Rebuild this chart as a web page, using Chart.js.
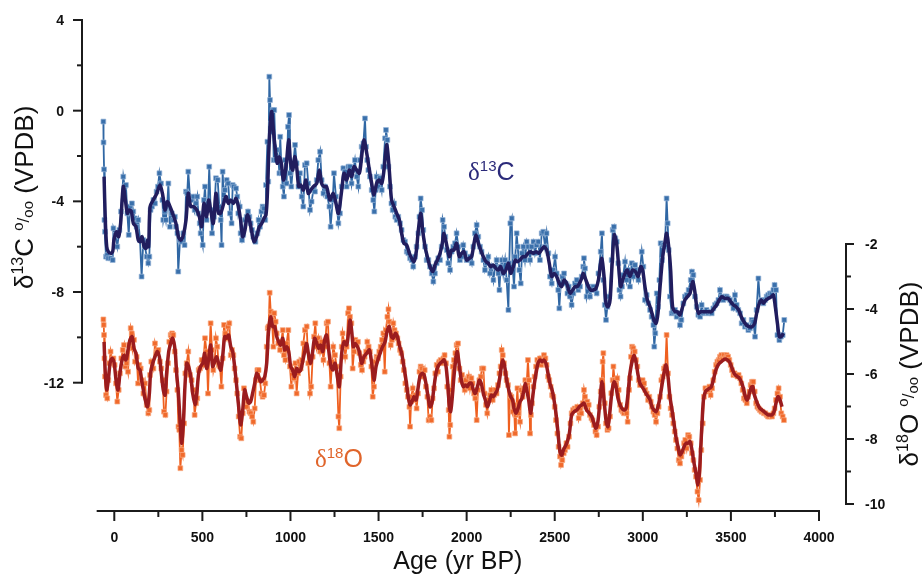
<!DOCTYPE html>
<html>
<head>
<meta charset="utf-8">
<script src="https://cdn.jsdelivr.net/npm/chart.js@4/dist/chart.umd.min.js"></script>
<style>
  html, body { margin: 0; padding: 0; background: #fff; }
  #wrap { width: 922px; height: 574px; }
</style>
</head>
<body>
<div id="wrap"><canvas id="isoChart" width="922" height="574"></canvas></div>
<script>
// Stalagmite isotope record - d13C (left axis) and d18O (right axis) vs age

// axis ticks
const xMajorTicks = [0, 500, 1000, 1500, 2000, 2500, 3000, 3500, 4000];
const xMinorTicks = [250, 750, 1250, 1750, 2250, 2750, 3250, 3750];
const xAxisSpan = [-100, 4000];
const c13MajorTicks = [4, 0, -4, -8, -12];
const c13MinorTicks = [2, -2, -6, -10];
const o18MajorTicks = [-2, -4, -6, -8, -10];
const o18MinorTicks = [-3, -5, -7, -9];

// d13C measurements [age yr BP, permil]
const c13Raw = [
  [-62,-0.48],[-61,-1.40],[-58,-2.59],[-56,-4.82],[-53,-5.34],[-47,-6.44],[-40,-6.37],[-34,-6.51],[-21,-6.51],[-9,-6.59],
  [-5,-5.19],[6,-5.48],[17,-6.00],[29,-5.26],[38,-4.45],[51,-2.91],[59,-3.35],[66,-3.28],[74,-4.53],[82,-5.48],
  [89,-4.23],[100,-4.09],[108,-4.45],[117,-4.75],[127,-5.12],[136,-4.82],[146,-5.71],[155,-7.32],[165,-5.71],[174,-6.00],
  [184,-6.44],[193,-6.73],[199,-6.44],[206,-4.38],[214,-4.23],[222,-3.94],[231,-4.09],[240,-3.57],[248,-3.35],[256,-2.76],
  [265,-3.21],[273,-3.94],[278,-4.82],[286,-4.45],[293,-4.82],[301,-4.09],[307,-3.21],[316,-5.12],[326,-4.53],[335,-4.82],
  [344,-4.68],[350,-5.12],[358,-5.41],[363,-7.10],[373,-5.71],[382,-5.78],[392,-5.41],[399,-5.93],[407,-3.57],[414,-3.65],
  [420,-2.69],[430,-3.87],[439,-3.94],[449,-3.79],[456,-4.38],[464,-4.09],[471,-3.79],[477,-4.53],[485,-4.97],[490,-5.41],
  [502,-5.93],[509,-3.94],[515,-3.35],[524,-4.82],[532,-4.09],[539,-2.47],[547,-4.38],[555,-5.41],[566,-4.68],[577,-2.98],
  [587,-3.06],[596,-4.23],[604,-4.82],[609,-5.93],[615,-2.69],[623,-3.94],[628,-3.50],[638,-3.06],[647,-3.21],[657,-4.53],
  [666,-4.97],[672,-3.28],[679,-3.35],[691,-3.43],[698,-3.79],[704,-4.53],[712,-4.23],[717,-5.41],[725,-5.71],[732,-5.48],
  [742,-4.82],[751,-4.68],[759,-4.45],[767,-4.68],[774,-4.97],[782,-5.26],[789,-5.56],[801,-5.78],[812,-5.41],[819,-4.82],
  [827,-5.12],[835,-4.45],[842,-4.23],[850,-4.31],[857,-4.82],[861,-3.28],[869,-1.37],[874,-3.13],[880,1.50],[884,0.47],
  [890,-0.56],[895,-0.93],[899,0.03],[905,-2.18],[908,0.03],[916,-2.18],[922,-1.73],[931,-2.10],[937,-2.76],[942,-1.15],
  [950,-2.76],[956,-3.35],[963,-3.79],[969,-2.18],[978,-3.21],[986,-0.71],[992,-0.19],[997,-2.76],[1005,-3.35],[1016,-2.32],
  [1026,-1.51],[1035,-2.32],[1045,-3.35],[1054,-2.76],[1064,-3.79],[1073,-4.23],[1082,-2.40],[1092,-2.32],[1101,-3.21],[1111,-4.38],
  [1120,-4.01],[1130,-3.50],[1139,-3.57],[1149,-3.06],[1158,-2.18],[1168,-1.81],[1177,-3.06],[1187,-3.65],[1196,-3.35],[1209,-3.79],
  [1221,-4.23],[1228,-5.12],[1240,-3.94],[1247,-2.76],[1258,-3.79],[1272,-4.97],[1281,-4.53],[1291,-3.35],[1300,-2.54],[1310,-2.69],
  [1319,-3.35],[1329,-2.47],[1338,-2.47],[1347,-3.21],[1357,-2.62],[1366,-2.18],[1376,-2.91],[1385,-3.35],[1395,-2.18],[1404,-1.59],
  [1414,-1.44],[1423,-0.34],[1429,-1.59],[1436,-2.18],[1442,-2.62],[1451,-2.91],[1461,-3.50],[1470,-3.94],[1476,-4.45],[1484,-3.50],
  [1489,-2.91],[1499,-3.35],[1508,-2.98],[1518,-3.50],[1527,-2.47],[1537,-1.22],[1542,-0.85],[1550,-1.29],[1556,-2.47],[1565,-3.35],
  [1573,-4.09],[1580,-4.38],[1588,-4.09],[1595,-4.68],[1603,-4.82],[1612,-4.68],[1622,-4.97],[1631,-5.26],[1641,-5.71],[1650,-5.78],
  [1660,-6.22],[1669,-6.29],[1679,-6.51],[1688,-6.59],[1697,-6.88],[1707,-6.44],[1716,-6.00],[1726,-5.41],[1732,-4.68],[1739,-3.87],
  [1747,-4.38],[1754,-5.26],[1764,-6.00],[1773,-6.59],[1783,-6.59],[1792,-6.88],[1802,-7.18],[1811,-7.54],[1820,-7.18],[1830,-6.73],
  [1839,-6.51],[1849,-6.59],[1858,-6.00],[1864,-4.82],[1872,-5.12],[1879,-5.56],[1887,-6.15],[1896,-6.73],[1906,-7.03],[1915,-6.22],
  [1924,-6.00],[1934,-5.85],[1943,-5.41],[1953,-6.00],[1962,-6.59],[1972,-6.44],[1981,-5.93],[1991,-6.29],[2000,-6.59],[2010,-6.59],
  [2019,-6.44],[2029,-6.73],[2038,-6.00],[2047,-5.41],[2057,-5.04],[2066,-5.56],[2076,-6.00],[2085,-6.22],[2095,-6.59],[2104,-7.03],
  [2114,-6.73],[2123,-6.44],[2133,-7.18],[2142,-6.88],[2152,-7.47],[2161,-6.88],[2170,-6.59],[2180,-7.18],[2186,-7.91],[2193,-6.88],
  [2201,-6.59],[2208,-7.18],[2218,-6.59],[2227,-7.47],[2237,-8.79],[2242,-6.73],[2248,-4.97],[2256,-4.75],[2261,-6.88],[2269,-7.76],
  [2276,-6.44],[2284,-5.41],[2290,-6.00],[2299,-7.03],[2307,-7.62],[2314,-6.29],[2322,-6.00],[2331,-6.59],[2341,-5.78],[2350,-6.00],
  [2360,-6.59],[2369,-6.00],[2379,-5.78],[2388,-6.29],[2397,-5.93],[2407,-5.78],[2416,-6.59],[2426,-5.41],[2435,-5.34],[2445,-6.00],
  [2454,-5.41],[2464,-6.29],[2473,-7.32],[2483,-7.62],[2492,-7.03],[2502,-6.44],[2511,-7.18],[2520,-7.91],[2526,-8.72],[2534,-7.62],
  [2543,-7.32],[2553,-7.18],[2562,-7.62],[2572,-8.06],[2580,-7.76],[2587,-8.20],[2596,-8.57],[2606,-8.06],[2615,-7.62],[2625,-7.47],
  [2634,-7.91],[2644,-7.76],[2653,-7.32],[2662,-6.88],[2666,-6.51],[2672,-6.96],[2681,-8.20],[2691,-7.76],[2700,-8.20],[2710,-7.91],
  [2719,-7.76],[2729,-7.91],[2738,-8.06],[2748,-7.18],[2761,-6.22],[2768,-5.41],[2776,-7.47],[2784,-8.57],[2791,-9.23],[2799,-8.65],
  [2810,-8.20],[2823,-6.59],[2829,-5.26],[2836,-5.12],[2844,-5.63],[2852,-5.78],[2861,-6.73],[2867,-7.91],[2874,-8.20],[2882,-7.76],
  [2889,-7.25],[2899,-6.66],[2908,-7.47],[2918,-7.03],[2927,-7.76],[2937,-6.73],[2946,-7.32],[2956,-6.81],[2965,-7.03],[2975,-7.47],
  [2984,-7.03],[2994,-6.22],[3003,-6.88],[3012,-8.35],[3022,-8.13],[3031,-8.50],[3041,-8.79],[3050,-9.09],[3060,-9.46],[3065,-10.41],
  [3071,-9.82],[3079,-8.06],[3086,-8.65],[3094,-7.47],[3101,-5.85],[3109,-6.59],[3117,-5.93],[3126,-6.00],[3135,-3.87],[3141,-4.97],
  [3147,-6.15],[3154,-8.20],[3164,-8.94],[3173,-8.87],[3183,-8.79],[3192,-9.09],[3202,-8.94],[3211,-9.46],[3219,-9.23],[3230,-8.50],
  [3239,-8.20],[3249,-8.13],[3260,-7.91],[3272,-7.47],[3279,-7.10],[3287,-7.25],[3296,-8.20],[3306,-8.65],[3315,-9.01],[3325,-9.09],
  [3334,-8.57],[3344,-8.94],[3353,-8.87],[3362,-8.79],[3372,-8.94],[3381,-8.87],[3391,-8.94],[3400,-8.72],[3410,-8.57],[3419,-8.50],
  [3429,-8.35],[3438,-7.91],[3448,-8.20],[3457,-8.35],[3467,-8.20],[3476,-8.20],[3485,-8.28],[3495,-8.35],[3504,-8.50],[3514,-8.72],
  [3523,-8.13],[3533,-8.57],[3542,-8.79],[3552,-8.94],[3561,-9.38],[3571,-9.23],[3580,-9.53],[3590,-9.46],[3599,-9.68],[3608,-9.60],
  [3618,-9.23],[3627,-9.31],[3637,-9.97],[3646,-8.79],[3656,-7.40],[3665,-8.43],[3675,-8.35],[3684,-8.50],[3694,-8.35],[3703,-8.20],
  [3712,-8.13],[3722,-8.06],[3731,-8.06],[3741,-7.91],[3748,-7.69],[3756,-7.91],[3764,-9.90],[3775,-10.12],[3784,-9.97],[3794,-9.90],
  [3803,-9.23]
];

// d13C smoothed curve [age yr BP, permil]
const c13Smooth = [
  [-58,-2.91],[-51,-4.82],[-43,-6.00],[-34,-6.22],[-21,-6.29],[-9,-6.22],[-2,-5.71],[13,-5.34],[25,-5.56],[36,-4.97],
  [51,-3.35],[63,-3.94],[74,-4.53],[85,-4.38],[97,-4.45],[108,-4.97],[123,-5.12],[136,-5.71],[146,-5.78],[157,-5.56],
  [169,-6.00],[180,-6.07],[188,-5.71],[195,-6.00],[203,-4.23],[221,-3.94],[241,-3.65],[259,-3.28],[275,-3.72],[288,-4.38],
  [301,-4.01],[316,-4.23],[331,-4.53],[350,-4.97],[364,-5.56],[377,-5.71],[392,-5.48],[407,-4.82],[420,-3.65],[434,-4.23],
  [449,-4.23],[468,-4.38],[483,-4.68],[496,-5.12],[509,-4.09],[524,-4.68],[536,-3.94],[547,-4.38],[562,-4.97],[577,-3.65],
  [591,-4.53],[604,-4.53],[634,-3.79],[647,-4.09],[661,-3.94],[676,-4.09],[691,-3.87],[704,-4.23],[717,-4.82],[729,-5.56],
  [742,-5.26],[755,-4.60],[767,-4.82],[780,-5.34],[793,-5.78],[808,-5.56],[823,-5.12],[837,-4.97],[850,-4.75],[861,-4.60],
  [869,-3.65],[880,-1.29],[893,-0.04],[903,-0.85],[914,-1.73],[925,-2.32],[937,-2.03],[948,-2.32],[960,-3.06],[975,-2.47],
  [990,-1.29],[1001,-2.32],[1013,-2.62],[1024,-2.03],[1035,-2.47],[1047,-3.35],[1058,-3.28],[1073,-3.50],[1088,-3.06],[1101,-3.65],
  [1115,-3.50],[1130,-3.35],[1149,-3.21],[1164,-2.62],[1177,-3.21],[1190,-3.35],[1205,-3.35],[1224,-3.94],[1243,-3.65],[1258,-4.09],
  [1272,-4.53],[1291,-3.50],[1304,-2.76],[1319,-3.06],[1334,-2.62],[1347,-2.91],[1361,-2.47],[1376,-2.62],[1391,-2.76],[1404,-2.03],
  [1417,-1.29],[1433,-1.88],[1448,-2.62],[1461,-3.21],[1474,-3.72],[1489,-3.21],[1504,-3.06],[1518,-3.21],[1531,-2.62],[1546,-1.51],
  [1555,-2.03],[1565,-3.06],[1574,-3.94],[1588,-4.23],[1603,-4.53],[1618,-4.82],[1631,-5.41],[1644,-5.85],[1660,-5.93],[1675,-6.29],
  [1688,-6.51],[1701,-6.66],[1713,-6.29],[1726,-5.26],[1739,-4.53],[1750,-5.26],[1764,-6.00],[1777,-6.44],[1792,-6.88],[1807,-7.10],
  [1820,-6.81],[1834,-6.59],[1849,-6.29],[1862,-5.85],[1871,-5.41],[1887,-5.93],[1902,-6.44],[1915,-6.15],[1928,-6.15],[1943,-5.85],
  [1958,-6.44],[1972,-6.29],[1985,-6.22],[2000,-6.59],[2015,-6.51],[2028,-6.44],[2042,-5.85],[2053,-5.48],[2066,-5.85],[2080,-6.15],
  [2095,-6.44],[2110,-6.66],[2123,-6.73],[2136,-6.88],[2151,-6.81],[2167,-6.96],[2180,-7.03],[2193,-6.88],[2208,-7.18],[2223,-7.03],
  [2237,-6.73],[2250,-7.18],[2265,-6.88],[2276,-6.59],[2288,-6.66],[2303,-6.59],[2318,-6.44],[2333,-6.44],[2348,-6.29],[2360,-6.22],
  [2378,-6.29],[2394,-6.22],[2409,-6.29],[2424,-6.15],[2439,-6.00],[2454,-6.15],[2469,-6.73],[2483,-7.32],[2496,-7.18],[2511,-7.32],
  [2526,-7.62],[2539,-7.76],[2553,-7.47],[2568,-7.62],[2587,-8.05],[2602,-7.91],[2615,-7.76],[2628,-7.76],[2640,-7.62],[2653,-7.40],
  [2662,-7.18],[2677,-7.47],[2691,-7.76],[2704,-7.91],[2719,-7.91],[2734,-7.84],[2748,-7.47],[2766,-6.51],[2780,-7.32],[2791,-8.50],
  [2802,-8.65],[2814,-8.35],[2825,-6.88],[2838,-5.48],[2852,-5.90],[2863,-6.88],[2874,-7.76],[2886,-7.47],[2899,-7.18],[2912,-7.03],
  [2927,-7.32],[2942,-7.03],[2958,-7.10],[2973,-7.32],[2988,-6.88],[2999,-7.03],[3012,-7.76],[3026,-8.35],[3041,-8.65],[3052,-8.94],
  [3063,-9.23],[3075,-9.38],[3086,-8.94],[3098,-7.76],[3113,-6.44],[3126,-5.78],[3135,-5.41],[3147,-6.00],[3158,-7.03],[3169,-8.65],
  [3183,-8.87],[3196,-8.87],[3211,-9.01],[3226,-8.65],[3239,-8.35],[3253,-8.21],[3268,-8.06],[3283,-7.54],[3294,-7.91],[3306,-8.65],
  [3317,-8.94],[3328,-8.87],[3344,-8.87],[3359,-8.87],[3374,-8.87],[3389,-8.87],[3404,-8.72],[3419,-8.57],[3434,-8.35],[3449,-8.21],
  [3466,-8.28],[3484,-8.28],[3499,-8.43],[3514,-8.57],[3529,-8.65],[3544,-8.79],[3559,-9.09],[3574,-9.31],[3589,-9.46],[3605,-9.53],
  [3620,-9.53],[3635,-9.38],[3646,-8.94],[3661,-8.50],[3673,-8.35],[3684,-8.50],[3699,-8.35],[3714,-8.28],[3729,-8.21],[3741,-8.13],
  [3752,-8.65],[3764,-9.38],[3775,-9.97],[3786,-9.97],[3798,-9.82]
];

// d18O measurements [age yr BP, permil]
const o18Raw = [
  [-62,-4.32],[-60,-4.49],[-58,-4.80],[-56,-5.52],[-53,-6.08],[-47,-6.65],[-40,-6.75],[-34,-6.19],[-28,-5.67],[-21,-5.31],
  [-13,-5.57],[-5,-5.52],[2,-5.72],[10,-6.29],[17,-6.85],[25,-6.49],[32,-5.98],[40,-5.52],[48,-5.26],[55,-5.11],
  [63,-5.77],[70,-5.67],[78,-5.93],[85,-5.11],[93,-4.59],[99,-4.75],[104,-5.21],[112,-4.95],[118,-5.62],[127,-5.47],
  [135,-6.29],[142,-5.72],[150,-5.83],[157,-6.19],[165,-6.60],[174,-6.29],[184,-6.95],[193,-7.21],[199,-7.11],[203,-6.03],
  [210,-5.62],[222,-5.83],[231,-5.06],[241,-5.31],[250,-5.26],[259,-5.62],[267,-5.83],[275,-6.19],[282,-7.16],[290,-7.26],
  [297,-6.54],[305,-5.67],[312,-5.01],[320,-4.80],[328,-4.75],[335,-4.80],[343,-5.31],[350,-5.88],[358,-6.49],[364,-7.62],
  [369,-7.72],[375,-8.90],[382,-8.34],[388,-8.49],[396,-7.52],[403,-5.98],[411,-5.67],[420,-5.31],[430,-6.03],[439,-6.19],
  [449,-6.49],[456,-7.26],[464,-6.90],[471,-6.75],[479,-5.88],[487,-5.83],[496,-5.57],[505,-5.72],[515,-4.90],[524,-5.31],
  [532,-6.60],[539,-5.42],[547,-4.44],[555,-5.26],[562,-5.88],[570,-5.62],[577,-4.90],[585,-5.16],[592,-5.72],[600,-5.77],
  [608,-6.39],[615,-5.52],[623,-4.49],[630,-4.75],[638,-4.90],[645,-4.54],[653,-4.44],[661,-5.42],[668,-5.26],[676,-5.42],
  [683,-5.83],[691,-6.19],[698,-6.60],[706,-7.31],[714,-7.93],[721,-7.98],[729,-7.21],[736,-6.44],[744,-6.75],[751,-7.01],
  [759,-6.85],[767,-7.16],[774,-7.21],[782,-7.31],[789,-7.47],[797,-7.06],[804,-6.19],[812,-5.88],[819,-5.88],[827,-6.19],
  [835,-6.60],[842,-6.70],[850,-6.65],[857,-6.29],[865,-5.16],[871,-4.59],[876,-4.54],[882,-3.50],[888,-4.08],[895,-4.34],
  [903,-5.16],[908,-4.13],[916,-4.39],[922,-4.75],[931,-5.06],[941,-5.26],[948,-5.01],[956,-4.65],[963,-5.42],[971,-5.57],
  [978,-5.06],[988,-4.65],[997,-5.77],[1005,-6.39],[1012,-5.88],[1020,-6.13],[1028,-5.67],[1035,-6.60],[1043,-5.98],[1050,-5.62],
  [1058,-5.83],[1065,-5.57],[1073,-5.06],[1082,-4.65],[1092,-4.54],[1101,-5.67],[1111,-6.60],[1118,-6.39],[1126,-5.47],[1134,-4.85],
  [1141,-4.44],[1149,-5.16],[1158,-4.90],[1168,-5.31],[1177,-5.01],[1187,-5.57],[1196,-5.16],[1205,-4.44],[1213,-4.39],[1221,-5.67],
  [1228,-6.39],[1236,-5.62],[1243,-5.16],[1253,-5.42],[1262,-5.77],[1272,-7.31],[1277,-7.67],[1285,-6.08],[1291,-5.16],[1296,-4.75],
  [1304,-5.01],[1311,-5.47],[1319,-5.16],[1327,-4.13],[1332,-3.98],[1338,-4.24],[1346,-4.44],[1353,-5.83],[1361,-5.31],[1368,-4.95],
  [1376,-5.06],[1383,-5.01],[1391,-5.36],[1399,-5.72],[1406,-5.88],[1414,-5.62],[1421,-5.47],[1429,-5.31],[1436,-5.01],[1444,-5.16],
  [1451,-5.31],[1459,-5.77],[1467,-6.70],[1474,-6.39],[1482,-5.62],[1489,-5.47],[1497,-5.52],[1504,-5.31],[1512,-5.16],[1520,-4.95],
  [1527,-4.75],[1535,-5.93],[1542,-4.65],[1550,-4.24],[1556,-4.01],[1561,-4.39],[1569,-5.11],[1576,-4.95],[1584,-4.44],[1591,-4.65],
  [1599,-4.75],[1607,-4.90],[1614,-5.06],[1622,-5.26],[1629,-5.36],[1637,-5.62],[1644,-5.88],[1652,-6.29],[1660,-6.49],[1667,-6.70],
  [1675,-7.01],[1679,-7.62],[1686,-6.70],[1694,-6.44],[1701,-6.80],[1709,-6.65],[1716,-7.06],[1724,-6.60],[1732,-5.93],[1739,-5.77],
  [1747,-5.83],[1754,-6.08],[1762,-5.88],[1769,-6.39],[1777,-6.70],[1784,-7.42],[1792,-7.31],[1800,-7.42],[1807,-6.75],[1815,-6.44],
  [1822,-5.98],[1830,-5.72],[1837,-5.93],[1845,-5.62],[1853,-5.57],[1860,-5.67],[1868,-5.52],[1875,-5.42],[1883,-5.67],[1890,-6.39],
  [1898,-7.11],[1902,-7.93],[1907,-7.57],[1913,-6.49],[1921,-5.77],[1928,-5.57],[1936,-5.36],[1943,-5.11],[1951,-5.06],[1959,-5.83],
  [1966,-6.19],[1974,-6.03],[1981,-6.24],[1989,-6.49],[1996,-6.19],[2004,-6.39],[2012,-6.08],[2019,-6.44],[2027,-6.13],[2034,-6.29],
  [2042,-6.60],[2049,-6.75],[2057,-7.42],[2064,-6.49],[2072,-6.19],[2080,-6.08],[2087,-5.83],[2095,-5.83],[2102,-6.60],[2110,-6.95],
  [2117,-7.21],[2125,-6.80],[2133,-6.65],[2140,-6.49],[2148,-6.80],[2155,-6.65],[2163,-6.49],[2170,-6.60],[2178,-6.34],[2186,-5.98],
  [2193,-5.77],[2199,-5.26],[2205,-5.42],[2212,-5.67],[2220,-5.98],[2227,-6.19],[2235,-6.34],[2240,-7.88],[2246,-6.65],[2254,-6.70],
  [2261,-7.16],[2269,-6.95],[2275,-7.83],[2280,-7.26],[2288,-6.44],[2295,-7.21],[2303,-7.47],[2310,-6.49],[2318,-6.70],[2326,-6.44],
  [2333,-6.19],[2341,-6.29],[2348,-5.57],[2354,-6.19],[2360,-7.83],[2365,-7.26],[2371,-6.90],[2379,-6.39],[2386,-6.08],[2394,-5.77],
  [2401,-5.57],[2409,-5.67],[2416,-5.52],[2424,-5.72],[2432,-5.62],[2439,-5.42],[2447,-5.52],[2454,-5.72],[2462,-6.08],[2469,-6.19],
  [2477,-6.39],[2485,-6.65],[2492,-6.70],[2500,-7.01],[2507,-7.42],[2515,-7.83],[2522,-8.24],[2530,-8.54],[2536,-8.80],[2543,-8.65],
  [2551,-8.44],[2558,-8.34],[2566,-8.13],[2573,-8.24],[2581,-7.93],[2589,-7.52],[2596,-7.21],[2604,-7.11],[2613,-7.06],[2621,-7.11],
  [2628,-7.01],[2636,-7.36],[2644,-7.11],[2651,-7.21],[2659,-6.90],[2666,-6.49],[2672,-6.70],[2678,-7.01],[2685,-6.85],[2693,-6.95],
  [2700,-7.26],[2708,-7.36],[2715,-7.42],[2723,-7.57],[2731,-7.77],[2738,-7.88],[2746,-7.62],[2753,-7.01],[2761,-6.54],[2767,-6.19],
  [2772,-5.62],[2776,-5.36],[2784,-6.90],[2791,-7.52],[2799,-7.72],[2806,-7.67],[2814,-7.31],[2821,-6.59],[2829,-6.19],[2833,-5.77],
  [2840,-6.19],[2848,-6.34],[2855,-6.13],[2863,-6.49],[2871,-6.95],[2878,-7.11],[2886,-7.16],[2893,-7.21],[2901,-7.11],[2908,-7.21],
  [2914,-7.47],[2922,-6.49],[2927,-6.13],[2933,-5.47],[2939,-5.16],[2946,-5.21],[2954,-5.31],[2961,-5.57],[2969,-5.77],[2977,-6.19],
  [2984,-6.34],[2992,-6.24],[2999,-6.19],[3007,-6.29],[3014,-6.49],[3022,-6.60],[3030,-6.80],[3037,-6.70],[3045,-6.85],[3052,-7.01],
  [3060,-7.16],[3067,-7.26],[3075,-7.47],[3083,-7.21],[3090,-7.01],[3098,-6.70],[3105,-6.19],[3113,-6.08],[3120,-5.83],[3128,-5.77],
  [3135,-4.80],[3143,-5.98],[3151,-6.70],[3158,-7.06],[3166,-7.26],[3173,-7.52],[3181,-7.77],[3188,-8.03],[3196,-8.29],[3204,-8.65],
  [3211,-8.75],[3219,-8.54],[3226,-8.39],[3234,-8.13],[3241,-8.03],[3249,-8.29],[3257,-7.88],[3264,-7.93],[3272,-8.13],[3279,-8.44],
  [3287,-8.65],[3294,-8.95],[3302,-9.16],[3310,-9.62],[3317,-9.88],[3325,-9.26],[3332,-8.34],[3340,-7.52],[3347,-6.70],[3355,-6.44],
  [3363,-6.54],[3370,-6.49],[3378,-6.39],[3385,-6.65],[3393,-6.44],[3400,-6.19],[3408,-5.93],[3416,-5.72],[3423,-5.62],[3431,-5.57],
  [3438,-5.47],[3446,-5.42],[3453,-5.52],[3461,-5.42],[3468,-5.52],[3476,-5.42],[3484,-5.47],[3491,-5.57],[3499,-5.72],[3506,-5.88],
  [3514,-6.03],[3521,-5.98],[3529,-6.03],[3537,-6.08],[3544,-6.03],[3552,-6.13],[3559,-6.29],[3567,-6.49],[3574,-6.75],[3582,-6.80],
  [3590,-6.90],[3597,-6.70],[3605,-6.54],[3612,-6.34],[3620,-6.24],[3627,-6.24],[3635,-6.54],[3643,-6.90],[3650,-7.01],[3658,-7.06],
  [3665,-7.11],[3673,-7.16],[3680,-7.16],[3688,-7.21],[3696,-7.21],[3703,-7.26],[3711,-7.31],[3718,-7.31],[3726,-7.26],[3733,-7.31],
  [3741,-7.21],[3748,-7.06],[3756,-6.80],[3764,-6.60],[3771,-6.44],[3779,-6.70],[3786,-7.21],[3794,-7.31],[3801,-7.42]
];

// d18O smoothed curve [age yr BP, permil]
const o18Smooth = [
  [-58,-5.01],[-51,-5.98],[-43,-6.49],[-34,-6.19],[-24,-5.67],[-13,-5.52],[-2,-5.62],[10,-6.19],[21,-6.49],[32,-5.98],
  [44,-5.57],[55,-5.42],[66,-5.57],[78,-5.26],[89,-4.95],[101,-4.85],[112,-5.21],[123,-5.36],[136,-5.83],[146,-5.88],
  [155,-6.19],[165,-6.49],[176,-6.80],[188,-7.01],[199,-6.60],[206,-5.98],[218,-5.67],[231,-5.47],[244,-5.31],[256,-5.47],
  [267,-5.98],[278,-6.49],[288,-6.65],[297,-5.98],[309,-5.31],[320,-5.06],[331,-4.90],[345,-5.26],[354,-5.98],[364,-6.60],
  [373,-7.42],[382,-8.13],[392,-7.52],[401,-6.39],[411,-5.67],[422,-5.77],[434,-6.08],[445,-6.60],[458,-6.95],[468,-6.60],
  [479,-5.98],[490,-5.77],[502,-5.67],[513,-5.36],[524,-5.83],[536,-5.52],[547,-5.11],[558,-5.77],[570,-5.62],[581,-5.47],
  [592,-5.67],[604,-5.88],[615,-5.47],[627,-4.85],[638,-4.90],[649,-4.80],[661,-5.16],[672,-5.31],[683,-5.77],[695,-6.39],
  [706,-7.01],[717,-7.57],[729,-7.11],[740,-6.49],[751,-6.70],[763,-6.90],[774,-6.85],[785,-6.60],[797,-6.29],[808,-5.98],
  [819,-6.08],[831,-6.24],[842,-6.19],[854,-6.08],[865,-5.67],[876,-4.65],[888,-4.24],[899,-4.54],[910,-4.54],[922,-4.85],
  [933,-5.01],[944,-5.11],[956,-4.90],[967,-5.26],[978,-5.16],[990,-5.31],[1001,-5.77],[1012,-5.88],[1024,-6.08],[1035,-5.83],
  [1047,-5.93],[1058,-5.88],[1069,-5.62],[1081,-5.31],[1092,-5.06],[1103,-5.42],[1115,-5.67],[1126,-5.31],[1137,-4.90],[1149,-5.06],
  [1160,-5.21],[1171,-5.11],[1183,-5.31],[1194,-4.95],[1205,-4.80],[1217,-5.26],[1228,-5.72],[1240,-5.88],[1253,-5.67],[1266,-6.08],
  [1277,-6.39],[1291,-5.36],[1304,-5.01],[1319,-5.11],[1329,-4.75],[1338,-4.34],[1347,-4.65],[1357,-5.16],[1368,-5.06],[1380,-5.16],
  [1391,-5.31],[1404,-5.67],[1417,-5.47],[1433,-5.36],[1448,-5.26],[1461,-5.67],[1474,-6.19],[1486,-5.77],[1499,-5.52],[1512,-5.31],
  [1523,-5.16],[1537,-5.01],[1550,-4.65],[1561,-4.54],[1573,-4.85],[1584,-4.90],[1595,-4.75],[1607,-4.85],[1618,-5.11],[1631,-5.36],
  [1644,-5.77],[1656,-6.19],[1667,-6.65],[1679,-6.95],[1690,-6.85],[1701,-6.70],[1713,-6.80],[1724,-6.44],[1735,-6.08],[1747,-5.98],
  [1758,-6.03],[1769,-6.29],[1781,-6.70],[1792,-7.01],[1803,-6.90],[1815,-6.39],[1826,-5.98],[1837,-5.77],[1849,-5.67],[1860,-5.62],
  [1872,-5.57],[1883,-5.77],[1894,-6.39],[1902,-7.01],[1909,-7.16],[1917,-6.80],[1928,-6.08],[1940,-5.47],[1947,-5.31],[1959,-5.77],
  [1970,-6.19],[1981,-6.39],[1993,-6.34],[2004,-6.39],[2015,-6.29],[2027,-6.29],[2038,-6.49],[2049,-6.60],[2061,-6.39],[2072,-6.19],
  [2083,-6.29],[2095,-6.60],[2106,-6.80],[2117,-7.01],[2129,-6.85],[2140,-6.65],[2152,-6.70],[2163,-6.60],[2174,-6.49],[2186,-6.19],
  [2197,-5.77],[2205,-5.57],[2216,-5.77],[2227,-6.19],[2239,-6.49],[2250,-6.70],[2261,-6.80],[2269,-7.06],[2280,-7.21],[2292,-7.06],
  [2303,-6.85],[2314,-6.75],[2326,-6.49],[2333,-6.29],[2341,-6.49],[2352,-6.80],[2363,-7.21],[2371,-6.90],[2382,-6.39],[2394,-5.98],
  [2405,-5.67],[2416,-5.57],[2428,-5.62],[2439,-5.57],[2450,-5.67],[2462,-5.98],[2473,-6.29],[2485,-6.49],[2496,-6.80],[2507,-7.21],
  [2519,-7.83],[2530,-8.40],[2540,-8.50],[2549,-8.34],[2568,-8.13],[2583,-7.83],[2596,-7.26],[2610,-7.16],[2625,-7.11],[2640,-7.01],
  [2653,-6.95],[2666,-6.90],[2681,-7.11],[2697,-7.21],[2710,-7.31],[2723,-7.52],[2734,-7.67],[2746,-7.42],[2757,-6.80],[2768,-6.24],
  [2780,-6.80],[2791,-7.42],[2802,-7.62],[2814,-7.11],[2825,-6.54],[2837,-6.24],[2848,-6.39],[2859,-6.75],[2871,-6.95],[2882,-7.06],
  [2893,-7.11],[2905,-7.06],[2916,-6.60],[2927,-5.98],[2939,-5.62],[2950,-5.42],[2961,-5.62],[2973,-6.03],[2984,-6.29],[2995,-6.39],
  [3007,-6.49],[3018,-6.60],[3030,-6.70],[3041,-6.80],[3052,-7.01],[3064,-7.11],[3075,-7.16],[3086,-7.01],[3098,-6.70],[3109,-6.34],
  [3120,-5.98],[3132,-5.72],[3143,-6.08],[3154,-6.70],[3166,-7.11],[3177,-7.52],[3188,-7.93],[3200,-8.24],[3211,-8.49],[3223,-8.39],
  [3234,-8.24],[3245,-8.13],[3257,-8.13],[3268,-8.08],[3279,-8.34],[3291,-8.75],[3302,-9.06],[3313,-9.42],[3321,-9.06],[3328,-8.34],
  [3336,-7.52],[3344,-6.80],[3355,-6.54],[3366,-6.49],[3378,-6.44],[3389,-6.39],[3400,-6.19],[3412,-5.93],[3423,-5.77],[3434,-5.67],
  [3446,-5.62],[3457,-5.57],[3468,-5.54],[3480,-5.57],[3491,-5.62],[3503,-5.77],[3514,-5.93],[3525,-6.03],[3537,-6.08],[3548,-6.13],
  [3559,-6.24],[3571,-6.44],[3582,-6.70],[3593,-6.80],[3605,-6.60],[3616,-6.41],[3624,-6.39],[3631,-6.60],[3643,-6.80],[3654,-6.95],
  [3665,-7.06],[3677,-7.11],[3688,-7.16],[3699,-7.21],[3711,-7.26],[3722,-7.26],[3733,-7.26],[3745,-7.16],[3756,-6.90],[3767,-6.70],
  [3779,-6.80],[3790,-7.01]
];

function toPoints(pairs) {
    return pairs.map(p => ({ x: p[0], y: p[1] }));
}

const SANS = '"Liberation Sans", Arial, Helvetica, sans-serif';

// draw a run of text pieces (sub/superscripts) starting at x, baseline y
function drawRuns(ctx, runs, x, y, align) {
    let width = 0;
    runs.forEach(r => { ctx.font = r.font; width += ctx.measureText(r.t).width; });
    let cx = align === 'center' ? x - width / 2 : x;
    ctx.textAlign = 'left';
    ctx.textBaseline = 'alphabetic';
    runs.forEach(r => {
        ctx.font = r.font;
        ctx.fillText(r.t, cx, y + (r.dy || 0));
        cx += ctx.measureText(r.t).width;
    });
}

function axisTitleRuns(mass, element) {
    return [
        { t: '\u03B4', font: '26px ' + SANS },
        { t: mass, font: '16px ' + SANS, dy: -10 },
        { t: element + ' ', font: '26px ' + SANS },
        { t: 'o', font: '15px ' + SANS, dy: -10 },
        { t: '/', font: '17px ' + SANS, dy: -4 },
        { t: 'oo', font: '15px ' + SANS, dy: 0 },
        { t: ' (VPDB)', font: '26px ' + SANS }
    ];
}

// detached axes, like the original figure
const detachedAxes = {
    id: 'detachedAxes',
    afterDraw(chart) {
        const ctx = chart.ctx;
        const area = chart.chartArea;
        const xs = chart.scales.x, yl = chart.scales.y, yr = chart.scales.y2;
        ctx.save();
        ctx.strokeStyle = '#1b1b1b';
        ctx.fillStyle = '#111';
        ctx.lineWidth = 2;

        const seg = (x1, y1, x2, y2) => {
            ctx.beginPath(); ctx.moveTo(x1, y1); ctx.lineTo(x2, y2); ctx.stroke();
        };

        // left axis (d13C)
        const lx = area.left;
        seg(lx, yl.getPixelForValue(Math.max(...c13MajorTicks)) - 1, lx, yl.getPixelForValue(Math.min(...c13MajorTicks)) + 1);
        c13MajorTicks.forEach(v => seg(lx - 9, yl.getPixelForValue(v), lx, yl.getPixelForValue(v)));
        c13MinorTicks.forEach(v => seg(lx - 5, yl.getPixelForValue(v), lx, yl.getPixelForValue(v)));
        ctx.font = 'bold 14px ' + SANS;
        ctx.textAlign = 'right';
        ctx.textBaseline = 'middle';
        c13MajorTicks.forEach(v => ctx.fillText(String(v), lx - 18, yl.getPixelForValue(v) + 1));

        // bottom axis (age)
        const by = area.bottom;
        seg(xs.getPixelForValue(xAxisSpan[0]), by, xs.getPixelForValue(xAxisSpan[1]) + 1, by);
        xMajorTicks.forEach(v => seg(xs.getPixelForValue(v), by, xs.getPixelForValue(v), by + 10));
        xMinorTicks.forEach(v => seg(xs.getPixelForValue(v), by, xs.getPixelForValue(v), by + 6));
        ctx.textAlign = 'center';
        ctx.textBaseline = 'middle';
        xMajorTicks.forEach(v => ctx.fillText(String(v), xs.getPixelForValue(v), by + 27));

        // right axis (d18O)
        const rx = area.right;
        seg(rx, yr.getPixelForValue(Math.max(...o18MajorTicks)) - 1, rx, yr.getPixelForValue(Math.min(...o18MajorTicks)) + 1);
        o18MajorTicks.forEach(v => seg(rx, yr.getPixelForValue(v), rx + 8, yr.getPixelForValue(v)));
        o18MinorTicks.forEach(v => seg(rx, yr.getPixelForValue(v), rx + 5, yr.getPixelForValue(v)));
        ctx.textAlign = 'left';
        o18MajorTicks.forEach(v => ctx.fillText(String(v), rx + 19, yr.getPixelForValue(v) + 1));

        // axis titles
        ctx.fillStyle = '#111';
        ctx.font = '25px ' + SANS;
        ctx.textAlign = 'center';
        ctx.textBaseline = 'alphabetic';
        ctx.fillText('Age (yr BP)', (xs.getPixelForValue(xAxisSpan[0]) + xs.getPixelForValue(xAxisSpan[1])) / 2, by + 58);

        const lMid = (yl.getPixelForValue(Math.max(...c13MajorTicks)) + yl.getPixelForValue(Math.min(...c13MajorTicks))) / 2 - 4;
        ctx.save();
        ctx.translate(lx - 49, lMid);
        ctx.rotate(-Math.PI / 2);
        drawRuns(ctx, axisTitleRuns('13', 'C'), 0, 0, 'center');
        ctx.restore();

        const rMid = (yr.getPixelForValue(Math.max(...o18MajorTicks)) + yr.getPixelForValue(Math.min(...o18MajorTicks))) / 2;
        ctx.save();
        ctx.translate(rx + 72, rMid);
        ctx.rotate(-Math.PI / 2);
        drawRuns(ctx, axisTitleRuns('18', 'O'), 0, 0, 'center');
        ctx.restore();

        // series labels inside the plot
        ctx.fillStyle = '#2b2a7a';
        drawRuns(ctx, [
            { t: '\u03B4', font: '25px "Liberation Serif", "Times New Roman", serif' },
            { t: '13', font: '15px ' + SANS, dy: -9 },
            { t: 'C', font: '25px ' + SANS }
        ], xs.getPixelForValue(2008), yl.getPixelForValue(-3.06), 'left');

        ctx.fillStyle = '#e0652b';
        drawRuns(ctx, [
            { t: '\u03B4', font: '25px "Liberation Serif", "Times New Roman", serif' },
            { t: '18', font: '15px ' + SANS, dy: -9 },
            { t: 'O', font: '25px ' + SANS }
        ], xs.getPixelForValue(1139), yr.getPixelForValue(-8.86), 'left');

        ctx.restore();
    }
};

// raw series sit underneath (higher order = drawn first)
const rawStyle = (line, fill, halo) => ({
    order: 2,
    showLine: true,
    borderColor: line,
    borderWidth: 1.8,
    pointStyle: 'rect',
    pointRadius: 3.4,
    pointBackgroundColor: fill,
    pointBorderColor: halo,
    pointBorderWidth: 1,
    pointHoverRadius: 3.4,
    tension: 0
});

const smoothStyle = (line) => ({
    order: 1,
    showLine: true,
    borderColor: line,
    borderWidth: 3.5,
    pointRadius: 0,
    pointHoverRadius: 0,
    tension: 0.3,
    borderJoinStyle: 'round'
});

const chart = new Chart(document.getElementById('isoChart').getContext('2d'), {
    type: 'scatter',
    data: {
        datasets: [
            Object.assign({ label: 'd13C', data: toPoints(c13Raw), yAxisID: 'y' },
                rawStyle('#3067a4', '#3a70ab', 'rgba(150,180,215,0.7)')),
            Object.assign({ label: 'd18O', data: toPoints(o18Raw), yAxisID: 'y2' },
                rawStyle('#ef6020', '#f06a2c', 'rgba(248,170,130,0.7)')),
            Object.assign({ label: 'd13C smoothed', data: toPoints(c13Smooth), yAxisID: 'y' },
                smoothStyle('#211d5e')),
            Object.assign({ label: 'd18O smoothed', data: toPoints(o18Smooth), yAxisID: 'y2' },
                smoothStyle('#9b1c1e'))
        ]
    },
    options: {
        responsive: false,
        animation: false,
        devicePixelRatio: 1,
        layout: { padding: { left: 82, right: 76, top: 20, bottom: 63 } },
        plugins: {
            legend: { display: false },
            tooltip: { enabled: false }
        },
        events: [],
        scales: {
            x: { type: 'linear', min: -183.3, max: 4153.3, display: false },
            y: { type: 'linear', min: -17.66, max: 4, display: false },
            y2: { type: 'linear', min: -10.216, max: 4.892, display: false }
        }
    },
    plugins: [detachedAxes]
});
</script>
</body>
</html>
